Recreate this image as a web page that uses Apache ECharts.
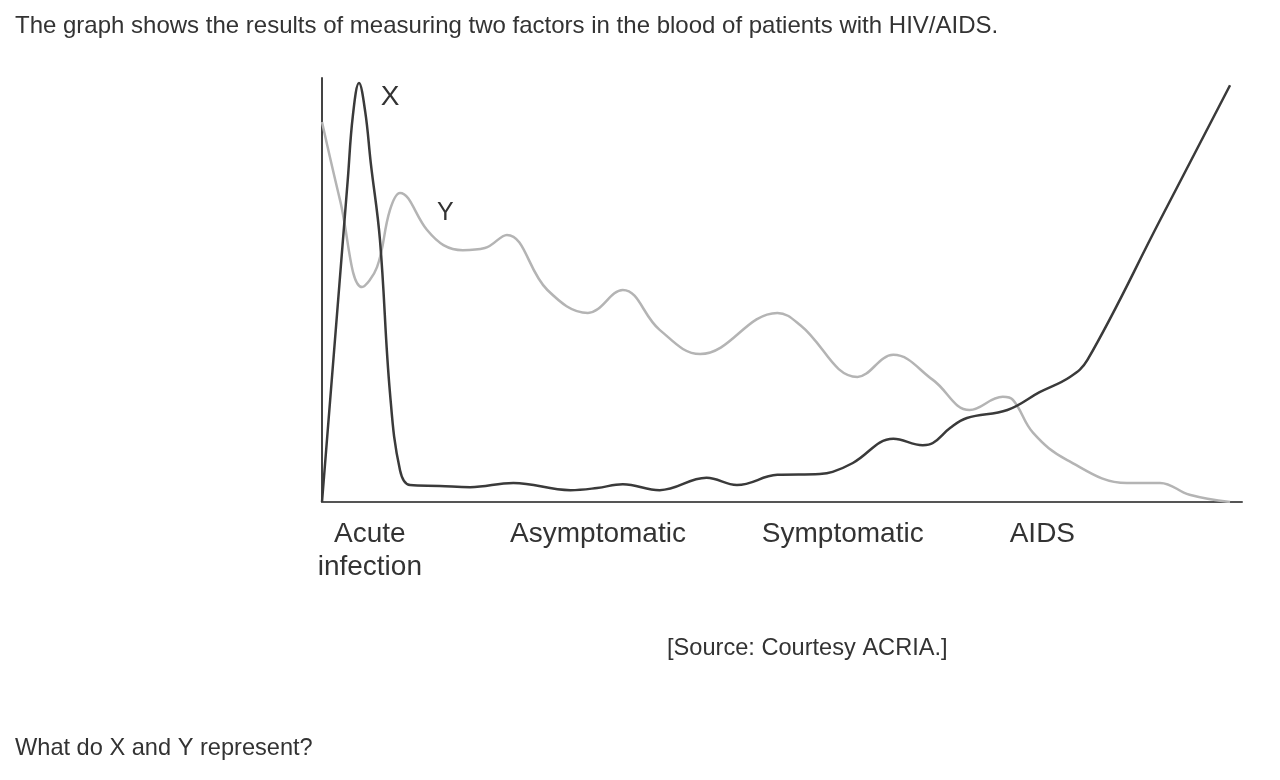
<!DOCTYPE html>
<html>
<head>
<meta charset="utf-8">
<script src="https://cdn.jsdelivr.net/npm/echarts@6/dist/echarts.min.js"></script>
<style>
  html, body { margin: 0; padding: 0; background: #fff; }
  #chart { width: 1280px; height: 780px; }
</style>
</head>
<body>
<div id="chart"></div>
<script>
// time runs 0..100 along the x axis, level 0..100 up the y axis (arbitrary units)
var factorX = [
  [0, 0], [2.8, 76.0], [3.35, 91.0], [4.02, 98.8], [4.7, 92.0], [5.3, 80.0], [6.3, 61.8], [7.39, 25.7],
  [8.48, 7.5], [9.57, 4.0], [12.8, 3.8], [16.1, 3.5], [20.8, 4.5], [27.0, 2.8],
  [29.9, 3.3], [32.7, 4.2], [36.7, 2.8], [41.8, 5.7], [45.1, 4.0], [49.5, 6.4],
  [54.1, 6.6], [55.5, 7.1], [57.7, 9.2], [62.1, 14.9], [65.3, 13.4], [66.4, 13.9],
  [68.3, 17.5], [70.1, 19.8], [74.5, 21.7], [78.0, 25.9], [81.3, 29.5], [83.2, 33.5],
  [91.1, 66.5], [98.7, 98.3]
];
var factorY = [
  [0, 89.6], [1.96, 71.2], [4.35, 50.7], [5.98, 55.4], [7.39, 68.9], [8.48, 72.9],
  [11.4, 64.2], [13.2, 60.6], [15.3, 59.4], [17.7, 59.9], [20.1, 63.0], [24.5, 50.0],
  [28.9, 44.6], [32.7, 50.0], [36.7, 40.6], [41.1, 34.9], [49.5, 44.6], [52.0, 41.7],
  [58.2, 29.5], [62.1, 34.7], [66.4, 28.8], [70.4, 21.7], [74.0, 24.8], [75.1, 24.1],
  [77.3, 16.3], [81.0, 9.9], [87.5, 4.5], [91.1, 4.5], [94.3, 1.7], [98.7, 0]
];
var stageTicks = [5.2, 30.0, 56.6, 78.3];
var stageNames = ['Acute\ninfection', 'Asymptomatic', 'Symptomatic', 'AIDS'];
var labelX = [7.4, 95.5];
var labelY = [13.4, 68.2];

var font = "'Liberation Sans', Arial, Helvetica, sans-serif";
var chart = echarts.init(document.getElementById('chart'));

var option = {
  animation: false,
  backgroundColor: '#fff',
  textStyle: { fontFamily: font, color: '#333' },
  grid: { left: 322, right: 38, top: 78, bottom: 278 },
  graphic: [
    { type: 'text', left: 15, top: 14,
      style: { text: 'The graph shows the results of measuring two factors in the blood of patients with HIV/AIDS.',
               font: '24px ' + font, fill: '#333' } },
    { type: 'text', left: 667, top: 636,
      style: { text: '[Source: Courtesy ACRIA.]', font: '23.6px ' + font, fill: '#333' } },
    { type: 'text', left: 15, top: 736,
      style: { text: 'What do X and Y represent?', font: '23.6px ' + font, fill: '#333' } }
  ],
  xAxis: {
    type: 'value', min: 0, max: 100,
    axisLine: { show: true, lineStyle: { color: '#555', width: 2 } },
    axisTick: { show: false },
    splitLine: { show: false },
    axisLabel: {
      customValues: stageTicks,
      margin: 16,
      fontSize: 28, lineHeight: 33, color: '#333', fontFamily: font,
      formatter: function (v) {
        var i = stageTicks.indexOf(v);
        return i >= 0 ? stageNames[i] : '';
      }
    }
  },
  yAxis: {
    type: 'value', min: 0, max: 100,
    axisLine: { show: true, lineStyle: { color: '#444', width: 2 } },
    axisTick: { show: false },
    axisLabel: { show: false },
    splitLine: { show: false }
  },
  series: [
    {
      name: 'Y', type: 'line', data: factorY, smooth: 0.4, symbol: 'none',
      lineStyle: { color: '#b4b4b4', width: 2.5 },
      markPoint: {
        symbol: 'circle', symbolSize: 0,
        label: { show: true, formatter: 'Y', fontSize: 25, color: '#333', fontFamily: font },
        data: [{ coord: labelY }]
      }
    },
    {
      name: 'X', type: 'line', data: factorX, smooth: 0.4, symbol: 'none',
      lineStyle: { color: '#3a3a3a', width: 2.5 },
      markPoint: {
        symbol: 'circle', symbolSize: 0,
        label: { show: true, formatter: 'X', fontSize: 28, color: '#333', fontFamily: font },
        data: [{ coord: labelX }]
      }
    }
  ]
};

chart.setOption(option);
</script>
</body>
</html>
